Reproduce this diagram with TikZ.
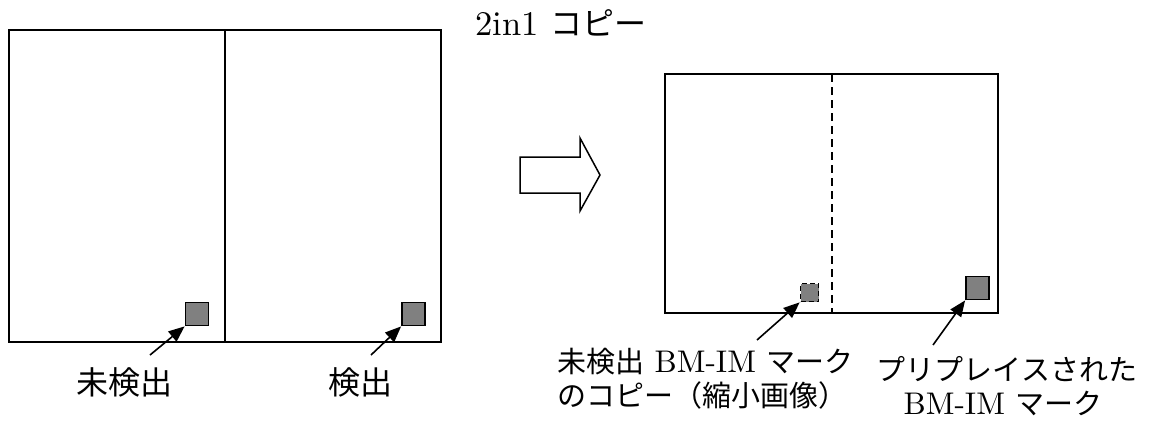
\documentclass[tikz,border=0pt]{standalone}
\usepackage{fontspec}
\setmainfont{lmroman10-regular.otf}[Scale=1.08]
\newfontfamily\jpfont{Noto Sans CJK JP}
\usetikzlibrary{arrows.meta}
\newcommand*{\lwd }{2pt}
\newcommand*{\mks }{23pt}
\newcommand*{\mkss}{18pt}

\begin{document}
\begin{tikzpicture}[x=1pt, y=-1pt,
        page/.style   = {draw, line width=\lwd},
        bmmark/.style = {draw, fill=gray, line width=1.8pt, minimum size=\mks, inner sep=0pt},
        ptr/.style    = {-{Triangle[length=16pt, width=13pt]}, line width=1.6pt},
        lbl/.style    = {inner sep=0pt, font=\fontsize{29}{35}\selectfont},
        biglbl/.style = {inner sep=0pt, font=\fontsize{32}{38}\selectfont}]
    \useasboundingbox (0,0) rectangle (1155,429);
        \draw [page] (9,30) rectangle (441,342);
        \draw [page] (225,30) -- (225,342);
        \node [bmmark] (markL) at (197,314)   {};
        \node [bmmark] (markR) at (413.5,314) {};
        \node [biglbl, anchor=base] (lblL) at (124,394) {\jpfont 未検出};
        \node [biglbl, anchor=base] (lblR) at (360,394) {\jpfont 検出};
        \coordinate (tailL) at (150,355);
        \coordinate (tailR) at (371,355);
        \draw [ptr] (tailL) -- (markL.south west);
        \draw [ptr] (tailR) -- (markR.south west);
        \draw [line width=1.5pt] (520,157) -- (580,157) -- (580,138) -- (600,175) -- (580,211) -- (580,193) -- (520,193) -- cycle;
        \node [biglbl, anchor=base west] (title) at (475,35) {2in1 {\jpfont コピー}};
        \draw [page] (665,74) rectangle (998,313);
        \draw [page, dash pattern=on 8pt off 5pt] (831.5,74) -- (831.5,313);
        \node [bmmark, dash pattern=on 5pt off 3pt, minimum size=\mkss] (copyMark) at (809.5,292.5) {};
        \node [bmmark] (preMark) at (977.5,288) {};
        \coordinate (tailC) at (757,340);
        \coordinate (tailP) at (933,345);
        \draw [ptr] (tailC) -- (copyMark.south west);
        \draw [ptr] (tailP) -- (preMark.south west);
        \node [lbl, anchor=base west] (copyA) at (557,372) {{\jpfont 未検出} BM-IM {\jpfont マーク}};
        \node [lbl, anchor=base west] (copyB) at (557,406) {\jpfont のコピー（縮小画像）};
        \node [lbl, anchor=base] (preA) at (1007,380) {\jpfont プリプレイスされた};
        \node [lbl, anchor=base] (preB) at (1003,414) {BM-IM {\jpfont マーク}};
        %\draw [page, dashed] (665,74) rectangle (831.5,313);
    \end{tikzpicture}
\end{document}
